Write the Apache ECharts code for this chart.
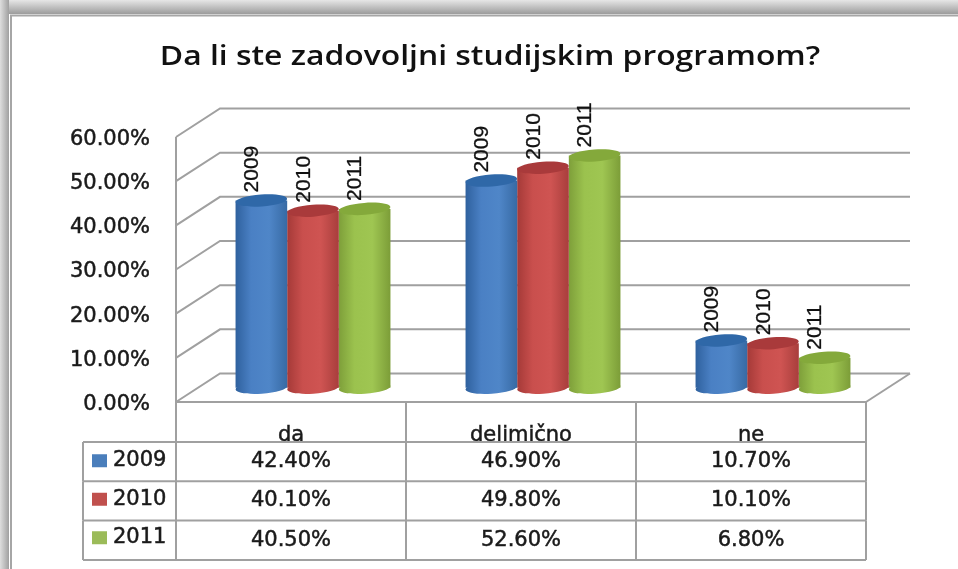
<!DOCTYPE html>
<html><head><meta charset="utf-8">
<style>html,body{margin:0;padding:0;background:#fff}#c{width:958px;height:569px}</style>
<script src="https://cdn.jsdelivr.net/npm/echarts@6/dist/echarts.min.js"></script>
</head><body><div id="c"></div>
<script>
const titleText = 'Da li ste zadovoljni studijskim programom?';
const categories = ['da', 'delimično', 'ne'];
const years = ['2009', '2010', '2011'];
const values2009 = [42.4, 46.9, 10.7];
const values2010 = [40.1, 49.8, 10.1];
const values2011 = [40.5, 52.6, 6.8];
const yTicks = [0, 10, 20, 30, 40, 50, 60];

const seriesValues = [values2009, values2010, values2011];
const keyColors = ['#4a7ebb', '#c0504d', '#9bbb59'];
const bodyStops = [
  ['#2f619e', '#4a80c4', '#4f86c8', '#376aa4'],
  ['#a53a38', '#c94f4d', '#cf5452', '#a83e3c'],
  ['#7e9f3a', '#9bc24e', '#9fc652', '#7c9d38']
];
const capColors = ['#2f68a8', '#a93a3b', '#84a93b'];
const fmt = v => v.toFixed(2) + '%';
const GRID = { left: 176, top: 137, width: 690, height: 265 };
const DEPTH_X = 44, DEPTH_Y = -28.5;
const LINE = '#a0a0a0';
const FONT = '"DejaVu Sans"';
const INK = '#1a1a1a';
const FATTEN = { textBorderColor: INK, textBorderWidth: 0.5 };

function wallItem(params, api) {
  const cs = params.coordSys;
  const y = api.coord([categories[0], api.value(1)])[1];
  const lineStyle = { stroke: LINE, lineWidth: 2, fill: null };
  return { type: 'polyline', shape: { points: [[cs.x, y], [cs.x + DEPTH_X, y + DEPTH_Y], [cs.x + cs.width + DEPTH_X, y + DEPTH_Y]] }, style: lineStyle, silent: true };
}
function frameItem(params, api) {
  const cs = params.coordSys;
  const s = { stroke: LINE, lineWidth: 2, fill: null };
  const b = cs.y + cs.height;
  return { type: 'group', children: [
    { type: 'line', shape: { x1: cs.x, y1: cs.y, x2: cs.x, y2: b }, style: s },
    { type: 'line', shape: { x1: cs.x + cs.width, y1: b, x2: cs.x + cs.width + DEPTH_X, y2: b + DEPTH_Y }, style: s }
  ]};
}
function cylinderItem(s) {
  return function (params, api) {
    const cat = api.value(0), val = api.value(1);
    const base = api.coord([cat, 0]), top = api.coord([cat, val]);
    const bandW = api.size([1, 0])[0];
    const w = bandW * 0.2245;
    const rx = w / 2, ry = 6, tilt = 0.07;
    const cx = base[0] + DEPTH_X / 2 + (s - 1) * w;
    const y0 = base[1] + DEPTH_Y / 2, y1 = top[1] + DEPTH_Y / 2;
    const st = bodyStops[s];
    const grad = { type: 'linear', x: 0, y: 0, x2: 1, y2: 0, colorStops: [
      { offset: 0, color: st[0] }, { offset: 0.3, color: st[1] }, { offset: 0.65, color: st[2] }, { offset: 1, color: st[3] } ] };
    return { type: 'group', children: [
      { type: 'ellipse', shape: { cx: cx, cy: y0, rx: rx, ry: ry }, rotation: tilt, originX: cx, originY: y0, style: { fill: grad } },
      { type: 'rect', shape: { x: cx - rx, y: y1, width: w, height: y0 - y1 }, style: { fill: grad } },
      { type: 'ellipse', shape: { cx: cx, cy: y1, rx: rx, ry: ry }, rotation: tilt, originX: cx, originY: y1, style: { fill: capColors[s] } },
      { type: 'text', x: cx - 9, y: y1 - 8, rotation: Math.PI / 2,
        style: { text: years[s], font: '21px "Liberation Sans"', fill: '#111', align: 'left', verticalAlign: 'middle', stroke: '#111', lineWidth: 0.3 } }
    ]};
  };
}
function tableItem(params, api) {
  const cs = params.coordSys, i = params.dataIndex;
  const bottom = cs.y + cs.height;
  const top = bottom + 40, rowH = 39.3, leftX = cs.x - 93;
  const s = { stroke: LINE, lineWidth: 2, fill: null };
  const children = [];
  const yTop = top + i * rowH, yBot = yTop + rowH;
  children.push({ type: 'line', shape: { x1: leftX, y1: yBot, x2: cs.x + cs.width, y2: yBot }, style: s });
  if (i === 0) children.push({ type: 'line', shape: { x1: leftX, y1: yTop, x2: cs.x + cs.width, y2: yTop }, style: s });
  [leftX, cs.x].concat(categories.map((c, k) => cs.x + (k + 1) * cs.width / 3)).forEach(x =>
    children.push({ type: 'line', shape: { x1: x, y1: yTop, x2: x, y2: yBot }, style: s }));
  categories.forEach((c, k) => {
    const x = api.coord([c, 0])[0];
    children.push({ type: 'text', x: x, y: yTop + rowH / 2, style: { text: fmt(seriesValues[i][k]), font: '21px ' + FONT, fill: INK, align: 'center', verticalAlign: 'middle', stroke: INK, lineWidth: 0.5 } });
  });
  return { type: 'group', children };
}

const chart = echarts.init(document.getElementById('c'), null, { renderer: 'canvas' });
chart.setOption({
  animation: false,
  backgroundColor: '#ffffff',
  graphic: [
    { type: 'rect', z: -10, shape: { x: 0, y: 0, width: 958, height: 14 }, style: { fill: { type: 'linear', x: 0, y: 0, x2: 0, y2: 1, colorStops: [{ offset: 0, color: '#e6e6e6' }, { offset: 1, color: '#9c9c9c' }] } } },
    { type: 'rect', z: -10, shape: { x: 0, y: 0, width: 9, height: 569 }, style: { fill: { type: 'linear', x: 0, y: 0, x2: 1, y2: 0, colorStops: [{ offset: 0, color: '#dedede' }, { offset: 1, color: '#a0a0a0' }] } } },
    { type: 'polyline', z: -9, shape: { points: [[11, 569], [11, 15.5], [958, 15.5]] }, style: { stroke: '#a6a6a6', lineWidth: 2, fill: null } },
    { type: 'text', z: 10, x: 490, y: 57, scaleX: 1.18,
      style: { text: titleText, font: '600 27px "Open Sans"', fill: '#111', align: 'center', verticalAlign: 'middle' } }
  ],
  grid: Object.assign({ outerBoundsMode: 'none' }, GRID),
  legend: {
    orient: 'vertical', left: 87, top: 445, itemWidth: 15, itemHeight: 13, itemGap: 17,
    selectedMode: false, icon: 'rect',
    data: years,
    textStyle: Object.assign({ fontFamily: FONT, fontSize: 21, color: INK, padding: [0, 0, 0, 1] }, FATTEN)
  },
  xAxis: { type: 'category', data: categories, boundaryGap: true,
    axisLine: { show: true, lineStyle: { color: LINE, width: 2 } },
    axisTick: { show: true, length: 40, lineStyle: { color: LINE, width: 2 } },
    axisLabel: Object.assign({ margin: 23, interval: 0, fontFamily: FONT, fontSize: 21, color: INK }, FATTEN) },
  yAxis: { type: 'value', min: 0, max: 60, interval: 10,
    axisLine: { show: false }, axisTick: { show: false }, splitLine: { show: false },
    axisLabel: { margin: 26, formatter: v => '{v|' + fmt(v) + '}',
      rich: { v: Object.assign({ padding: [5, 0, 0, 0], fontFamily: FONT, fontSize: 21, color: INK }, FATTEN) } } },
  series: [
    { type: 'custom', name: 'walls', z: 1, renderItem: wallItem, encode: { x: 0, y: 1 }, silent: true,
      data: yTicks.map(t => [0, t]) },
    { type: 'custom', name: 'frame', z: 1, renderItem: frameItem, encode: { x: 0, y: 1 }, silent: true, data: [[0, 0]] },
    { type: 'custom', name: 'table', z: 1, renderItem: tableItem, encode: { x: 0, y: 1 }, silent: true,
      data: years.map((y, i) => [0, i]) }
  ].concat(years.map((y, s) => ({
    type: 'custom', name: y, z: 5 - s, renderItem: cylinderItem(s), encode: { x: 0, y: 1 }, silent: true,
    itemStyle: { color: keyColors[s] },
    data: seriesValues[s].map((v, k) => [k, v])
  })))
});
</script></body></html>
